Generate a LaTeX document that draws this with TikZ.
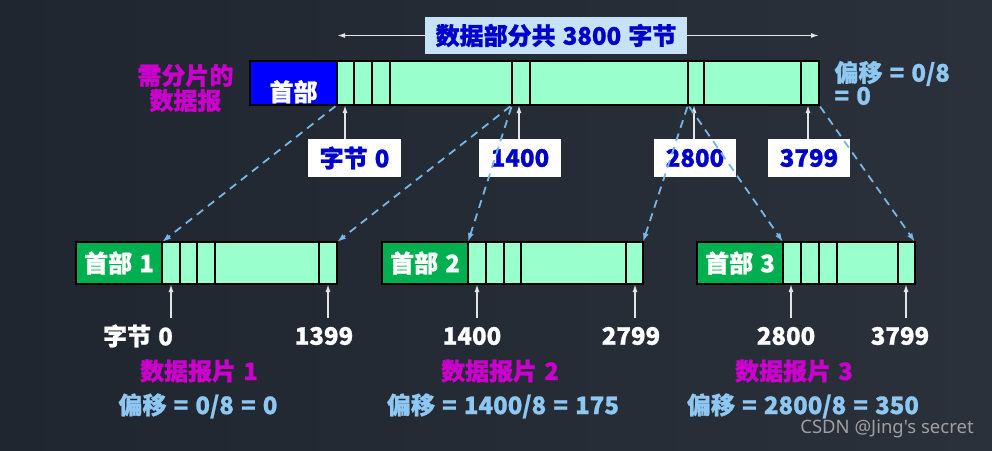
\documentclass[tikz,border=0pt]{standalone}
\usepackage{fontspec}
\setmainfont{Noto Sans CJK SC}[WordSpace=1.3, BoldFeatures={FakeBold=1}]
\newfontfamily\wmfont{Noto Sans}[Ligatures=TeXOff]
\usepackage{tikz}
\usetikzlibrary{arrows.meta, positioning, calc}

\definecolor{bgleft}{RGB}{32,38,47}
\definecolor{bgright}{RGB}{42,49,58}
\definecolor{mint}{RGB}{153,255,204}
\definecolor{hdrblue}{RGB}{0,0,255}
\definecolor{hdrgreen}{RGB}{0,176,80}
\definecolor{labmag}{RGB}{204,0,204}
\definecolor{offblue}{RGB}{142,200,242}
\definecolor{dashblue}{RGB}{120,182,232}
\definecolor{totfill}{RGB}{197,226,246}
\definecolor{numblue}{RGB}{0,0,204}
\definecolor{arrowgray}{RGB}{228,228,228}

\begin{document}
\begin{tikzpicture}[
    x=1pt, y=-1pt,
    font=\fontsize{24}{25}\selectfont\bfseries,
    cell/.style={rectangle, draw=black, line width=1.5pt, inner sep=0pt, outer sep=0pt, minimum height=42pt, fill=mint},
    hdr/.style={cell, fill=hdrgreen, text=white},
    numbox/.style={rectangle, fill=white, text=numblue, minimum height=38pt, minimum width=82pt, inner sep=0pt},
    numlab/.style={text=white},
    fraglab/.style={text=labmag},
    offlab/.style={text=offblue},
    uparrow/.style={-{Latex[length=8pt,width=5pt]}, arrowgray, line width=1.5pt},
    cutarrow/.style={-{Latex[length=9pt,width=6pt]}, dashblue, line width=1.8pt, dash pattern=on 8pt off 6pt, shorten <=2pt}
]

% Background
\shade[left color=bgleft, right color=bgright] (0,0) rectangle (992,450);
\useasboundingbox (0,0) rectangle (992,450);

% Datagram to be fragmented
\node[cell, fill=hdrblue, minimum width=87pt, minimum height=44pt, line width=2pt] (hdr0) at (293.5,83) {};
\node[cell, minimum width=482pt, minimum height=44pt, line width=2pt, right=0pt of hdr0] (dat) {};
\node[text=white, anchor=base, inner sep=0pt] (hdr0txt) at ([yshift=4pt]hdr0.south) {首部};
\foreach \x in {354,372,390,512,530,688,704,801}
    \draw[line width=1.5pt] (\x,0 |- dat.north) -- (\x,0 |- dat.south);

\node[fraglab, align=center, left=13pt of hdr0, yshift=-5pt] (need) {需分片的\\数据报};
\node[offlab, align=left, right=12pt of dat, font=\fontsize{24}{23}\selectfont\bfseries] (off0) {偏移 = 0/8\\= 0};

% Total length
\node[fill=totfill, text=numblue, minimum width=262pt, minimum height=37pt, inner sep=0pt] (total) at (556,35.5) {数据部分共 3800 字节};
\draw[uparrow] (total.west) -- (total.west -| dat.north west);
\draw[uparrow] (total.east) -- (total.east -| dat.north east);

% Byte positions
\node[numbox, minimum width=93pt] (nb0) at (354.5,158) {字节 0};
\node[numbox] (nb1) at (520,158) {1400};
\node[numbox] (nb2) at (695,158) {2800};
\node[numbox] (nb3) at (809,158) {3799};

\coordinate (p0) at (345,105);
\coordinate (p1) at (519,105);
\coordinate (p2) at (694,105);
\coordinate (p3) at (808,105);
\draw[uparrow] (nb0.north -| p0) -- (p0);
\draw[uparrow] (nb1.north -| p1) -- (p1);
\draw[uparrow] (nb2.north -| p2) -- (p2);
\draw[uparrow] (nb3.north -| p3) -- (p3);

% Fragments
\node[hdr, minimum width=86pt] (h1) at (119,263) {首部 1};
\node[cell, minimum width=175pt, right=0pt of h1] (d1) {};
\node[hdr, minimum width=86pt] (h2) at (425,263) {首部 2};
\node[cell, minimum width=175pt, right=0pt of h2] (d2) {};
\node[hdr, minimum width=86pt] (h3) at (740,263) {首部 3};
\node[cell, minimum width=132pt, right=0pt of h3] (d3) {};
\foreach \x in {180,197,215,319,486,504,521,626,801,819,837,898}
    \draw[line width=1.5pt] (\x,0 |- d1.north) -- (\x,0 |- d1.south);

% Cuts
\coordinate (c1400) at (512,105);
\coordinate (c2800) at (688,105);
\draw[cutarrow] (dat.south west) -- (d1.north west);
\draw[cutarrow] (c1400) -- (d1.north east);
\draw[cutarrow] (c1400) -- (d2.north west);
\draw[cutarrow] (c2800) -- (d2.north east);
\draw[cutarrow] (c2800) -- (d3.north west);
\draw[cutarrow] (dat.south east) -- (d3.north east);

% Fragment byte ranges
\node[numlab] (l1a) at (138,336) {字节 0};
\node[numlab] (l1b) at (324,336) {1399};
\node[numlab] (l2a) at (472,336) {1400};
\node[numlab] (l2b) at (631,336) {2799};
\node[numlab] (l3a) at (786,336) {2800};
\node[numlab] (l3b) at (900,336) {3799};

\coordinate (q1a) at (171,284);
\coordinate (q1b) at (328,284);
\coordinate (q2a) at (477,284);
\coordinate (q2b) at (635,284);
\coordinate (q3a) at (791,284);
\coordinate (q3b) at (906,284);
\foreach \q in {q1a,q1b,q2a,q2b,q3a,q3b}
    \draw[uparrow] ([yshift=-34pt]\q) -- (\q);

% Fragment names and offsets
\node[fraglab] (f1) at (199,371) {数据报片 1};
\node[fraglab] (f2) at (500,371) {数据报片 2};
\node[fraglab] (f3) at (794,371) {数据报片 3};
\node[offlab] (o1) at (198,406) {偏移 = 0/8 = 0};
\node[offlab] (o2) at (503,406) {偏移 = 1400/8 = 175};
\node[offlab] (o3) at (803,406) {偏移 = 2800/8 = 350};

\node[font=\wmfont\fontsize{18.5}{20}\selectfont, text=gray!75!white] (wm) at (887,429) {CSDN @Jing's secret};

\end{tikzpicture}
\end{document}
